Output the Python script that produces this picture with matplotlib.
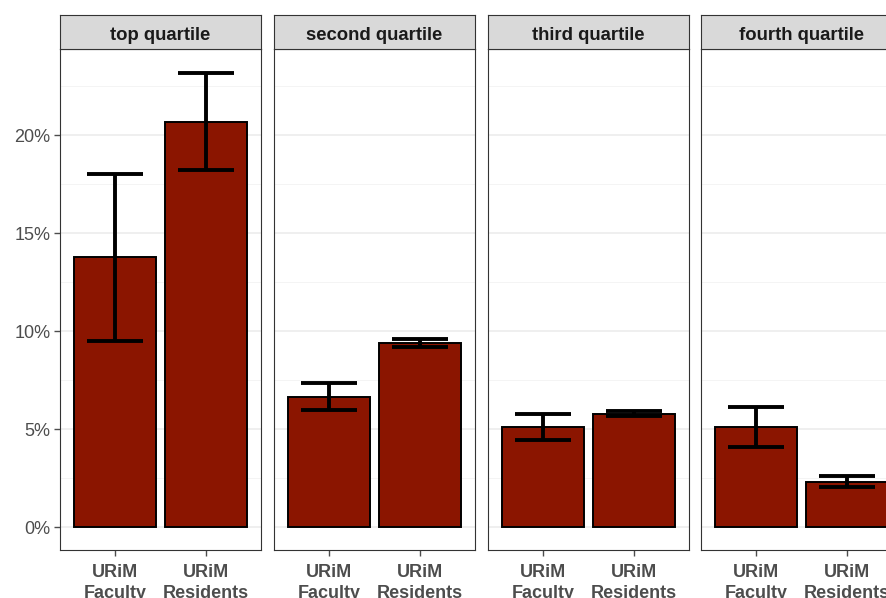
import matplotlib.pyplot as plt
import numpy as np

plt.rcParams['font.family'] = ['Liberation Sans', 'DejaVu Sans']

quartiles = ['top quartile', 'second quartile', 'third quartile', 'fourth quartile']
groups = ['URiM\nFaculty', 'URiM\nResidents']

# percent values per quartile: [faculty, residents]
values = [[13.8, 20.7], [6.67, 9.41], [5.09, 5.80], [5.14, 2.29]]
lower = [[9.5, 18.25], [6.0, 9.2], [4.43, 5.68], [4.12, 2.04]]
upper = [[18.0, 23.2], [7.38, 9.62], [5.80, 5.93], [6.16, 2.60]]

W, H = 887, 598
fig = plt.figure(figsize=(W / 100, H / 100), dpi=100)

bar_color = '#8B1500'
grid_major = '#EBEBEB'
border = '#333333'

panel_left = [60, 274, 488, 701]
panel_w = 201
panel_top, panel_bottom = 49, 550
strip_top = 15

for i, q in enumerate(quartiles):
    x0 = panel_left[i] / W
    ax = fig.add_axes([x0, (H - panel_bottom) / H, panel_w / W,
                       (panel_bottom - panel_top) / H])
    x = np.arange(1, len(groups) + 1)
    vals = np.array(values[i])
    lo = np.array(lower[i])
    hi = np.array(upper[i])
    ax.bar(x, vals, width=0.9, color=bar_color, edgecolor='black',
           linewidth=1.4, zorder=2)
    ax.errorbar(x, vals, yerr=[vals - lo, hi - vals], fmt='none',
                ecolor='black', elinewidth=2.8, capsize=20, capthick=2.8,
                zorder=3)
    ax.set_xlim(0.4, 2.6)
    ax.set_ylim(-1.16, 24.4)
    ax.set_yticks([0, 5, 10, 15, 20])
    ax.set_yticks([2.5, 7.5, 12.5, 17.5, 22.5], minor=True)
    ax.grid(True, which='major', axis='y', color=grid_major, lw=1.1, zorder=0)
    ax.grid(True, which='minor', axis='y', color='#F2F2F2', lw=0.6, zorder=0)
    ax.set_axisbelow(True)
    ax.set_xticks(x)
    ax.set_xticklabels(groups, fontsize=13, fontweight='bold',
                       color='#4D4D4D', linespacing=1.3)
    ax.tick_params(axis='x', length=4, width=1, color='#4D4D4D', pad=6)
    ax.tick_params(axis='y', which='minor', length=0)
    if i == 0:
        ax.set_yticklabels([f'{t}%' for t in [0, 5, 10, 15, 20]],
                           fontsize=13, color='#4D4D4D')
        ax.tick_params(axis='y', length=4, width=1, color='#4D4D4D', pad=3)
    else:
        ax.tick_params(axis='y', which='both', length=0, labelleft=False)
    for s in ax.spines.values():
        s.set_color(border)
        s.set_linewidth(0.8)

    # facet strip
    sax = fig.add_axes([x0, (H - panel_top) / H, panel_w / W,
                        (panel_top - strip_top) / H])
    sax.set_facecolor('#D9D9D9')
    sax.set_xticks([])
    sax.set_yticks([])
    for s in sax.spines.values():
        s.set_color(border)
        s.set_linewidth(0.8)
    sax.text(0.5, 0.47, q, ha='center', va='center_baseline', fontsize=13.3,
             fontweight='bold', color='#1A1A1A', transform=sax.transAxes)

fig.savefig('out.png', dpi=100)
